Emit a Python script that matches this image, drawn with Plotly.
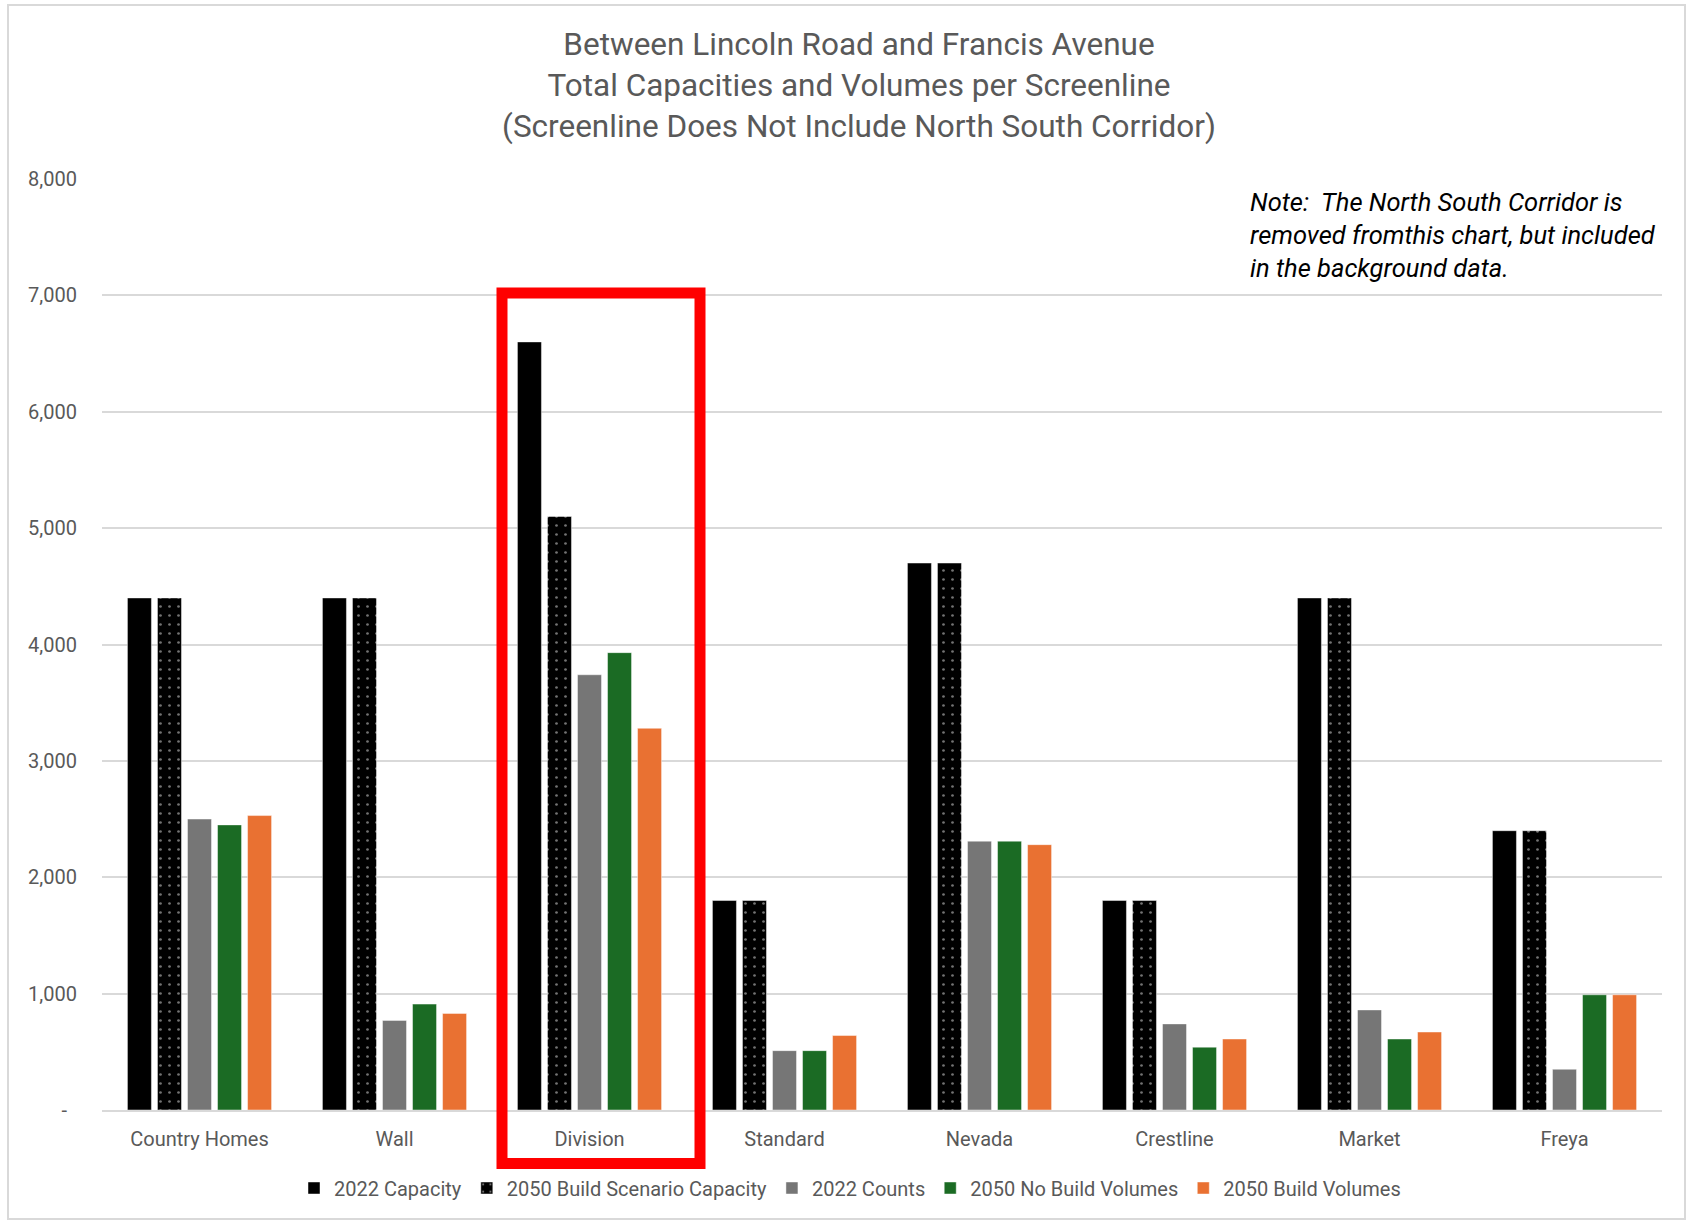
import plotly.graph_objects as go

# Screenline categories and series values
categories = ["Country Homes", "Wall", "Division", "Standard", "Nevada", "Crestline", "Market", "Freya"]
capacity_2022 = [4400, 4400, 6600, 1800, 4700, 1800, 4400, 2400]
capacity_2050_build = [4400, 4400, 5100, 1800, 4700, 1800, 4400, 2400]
counts_2022 = [2500, 770, 3740, 510, 2310, 740, 860, 350]
volumes_2050_no_build = [2450, 910, 3930, 510, 2310, 540, 610, 990]
volumes_2050_build = [2530, 830, 3280, 640, 2280, 610, 670, 990]

series_names = ["2022 Capacity", "2050 Build Scenario Capacity", "2022 Counts",
                "2050 No Build Volumes", "2050 Build Volumes"]

y_tickvals = [0, 1000, 2000, 3000, 4000, 5000, 6000, 7000, 8000]
y_ticktext = ["-\u00a0\u00a0", "1,000", "2,000", "3,000", "4,000", "5,000", "6,000", "7,000", "8,000"]

title_lines = ["Between Lincoln Road and Francis Avenue",
               "Total Capacities and Volumes per Screenline",
               "(Screenline Does Not Include North South Corridor)"]
note_lines = ["Note:\u00a0 The North South Corridor is",
              "removed fromthis chart, but included",
              "in the background data."]

FONT = "Roboto"
TEXT_GRAY = "#595959"
GRID = "#d9d9d9"
W, H = 1690, 1222
# plot-area pixel box
L, R, T, B = 102, 1662, 179, 1110


def px_x(x):
    return (x - L) / (R - L)


def px_y(y):
    return (B - y) / (B - T)


edge = dict(color="rgba(255,255,255,0.45)", width=1)

fig = go.Figure()
fig.add_trace(go.Bar(name=series_names[0], x=categories, y=capacity_2022,
                     marker=dict(color="#000000", line=edge)))
fig.add_trace(go.Bar(name=series_names[1], x=categories, y=capacity_2050_build,
                     marker=dict(color="#000000", line=edge,
                                 pattern=dict(shape=".", fillmode="overlay",
                                              bgcolor="#000000", fgcolor="#e6e6e6",
                                              size=9, solidity=0.07))))
fig.add_trace(go.Bar(name=series_names[2], x=categories, y=counts_2022,
                     marker=dict(color="#767676", line=edge)))
fig.add_trace(go.Bar(name=series_names[3], x=categories, y=volumes_2050_no_build,
                     marker=dict(color="#1b6b24", line=edge)))
fig.add_trace(go.Bar(name=series_names[4], x=categories, y=volumes_2050_build,
                     marker=dict(color="#e97132", line=edge)))

shapes = [
    # outer chart frame
    dict(type="rect", xref="paper", yref="paper",
         x0=px_x(8), x1=px_x(1685), y0=px_y(5), y1=px_y(1219),
         line=dict(color=GRID, width=2), fillcolor="rgba(0,0,0,0)", layer="below"),
    # red highlight around Division
    dict(type="rect", xref="paper", yref="paper",
         x0=px_x(502), x1=px_x(700), y0=px_y(293), y1=px_y(1163.5),
         line=dict(color="#ff0000", width=11), fillcolor="rgba(0,0,0,0)"),
]

note_y = [201.5, 235, 268]
annotations = [
    dict(text="<i>" + line + "</i>", xref="paper", yref="paper",
         x=px_x(1248), y=px_y(yy), xanchor="left", yanchor="middle",
         showarrow=False, font=dict(family=FONT, size=25.5, color="#000000"))
    for line, yy in zip(note_lines, note_y)
]

fig.update_layout(
    width=W, height=H,
    margin=dict(l=L, r=W - R, t=T, b=H - B, pad=0),
    paper_bgcolor="white", plot_bgcolor="white",
    barmode="group", bargap=0.23, bargroupgap=0.2,
    title=dict(text="<br>".join(title_lines), xref="container", yref="container",
               x=859 / W, xanchor="center", y=1 - 55 / H, yanchor="middle",
               font=dict(family=FONT, size=31.5, color=TEXT_GRAY)),
    font=dict(family=FONT, size=20, color=TEXT_GRAY),
    showlegend=True,
    legend=dict(orientation="h", xref="container", yref="container",
                x=850 / W, xanchor="center", y=1 - 1188 / H, yanchor="middle",
                font=dict(family=FONT, size=20, color=TEXT_GRAY),
                traceorder="normal", itemwidth=30, bgcolor="rgba(0,0,0,0)"),
    xaxis=dict(showgrid=False, showline=True, linecolor=GRID, linewidth=2,
               ticks="", ticklabelstandoff=10,
               tickfont=dict(family=FONT, size=20, color=TEXT_GRAY)),
    yaxis=dict(range=[0, 8000], tickvals=y_tickvals, ticktext=y_ticktext,
               showgrid=True, gridcolor=GRID, gridwidth=2, zeroline=False,
               showline=False, ticks="", ticklabelstandoff=24,
               tickfont=dict(family=FONT, size=20, color=TEXT_GRAY)),
    shapes=shapes,
    annotations=annotations,
)

fig.write_html("out.html")
